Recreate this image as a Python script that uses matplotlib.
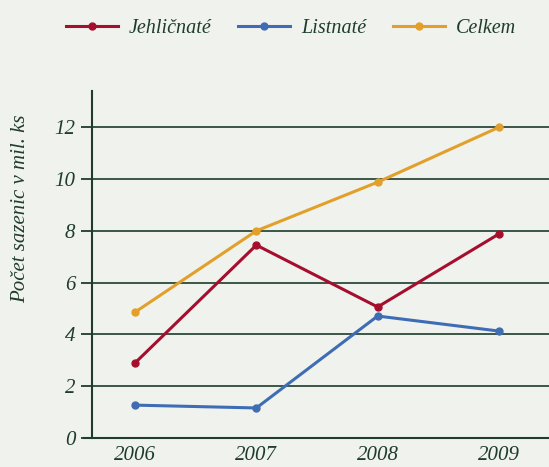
import numpy as np
import matplotlib.pyplot as plt

years = [2006, 2007, 2008, 2009]
jehlicnate = [2.9, 7.45, 5.06, 7.88]
listnate = [1.27, 1.16, 4.71, 4.13]
celkem = [4.86, 8.0, 9.88, 12.0]

bg = '#f0f2ee'
ink = '#1f3d2a'

plt.rcParams['font.family'] = ['Liberation Serif', 'DejaVu Serif']
plt.rcParams['font.style'] = 'italic'

fig = plt.figure(figsize=(5.49, 4.67), dpi=100, facecolor=bg)
ax = fig.add_axes([0.1676, 0.0621, 0.8324, 0.743], facecolor=bg)

ax.plot(years, jehlicnate, color='#a50f2d', lw=2.2, marker='o', ms=5, label='Jehličnaté')
ax.plot(years, listnate, color='#3f6db5', lw=2.2, marker='o', ms=5, label='Listnaté')
ax.plot(years, celkem, color='#e2a02b', lw=2.2, marker='o', ms=5, label='Celkem')

ax.set_xlim(2006 - 0.355, 2009 + 0.413)
ax.set_ylim(0, 13.4)
ax.set_yticks(range(0, 13, 2))
ax.set_xticks(years)
ax.yaxis.grid(True, color='#2d4a3a', lw=1.3)
ax.set_axisbelow(True)

for s in ['top', 'right']:
    ax.spines[s].set_visible(False)
for s in ['left', 'bottom']:
    ax.spines[s].set_color(ink)
    ax.spines[s].set_linewidth(1.5)
ax.spines['bottom'].set_bounds(2006 - 0.42, 2009 + 0.413)
ax.spines['bottom'].set_clip_on(False)

ax.tick_params(axis='y', length=8, width=1.3, color=ink, labelcolor=ink, labelsize=15, pad=4)
ax.tick_params(axis='x', length=0, labelcolor=ink, labelsize=15, pad=6)
ax.set_ylabel('Počet sazenic v mil. ks', color=ink, fontsize=15)
ax.yaxis.set_label_coords(-0.135, 0.66)

fig.legend(loc='center', bbox_to_anchor=(0.53, 0.94), ncol=3, frameon=False,
           fontsize=14.5, labelcolor=ink, handlelength=2.6, columnspacing=1.3,
           handletextpad=0.55)

fig.savefig('out.png', dpi=100, facecolor=bg)
